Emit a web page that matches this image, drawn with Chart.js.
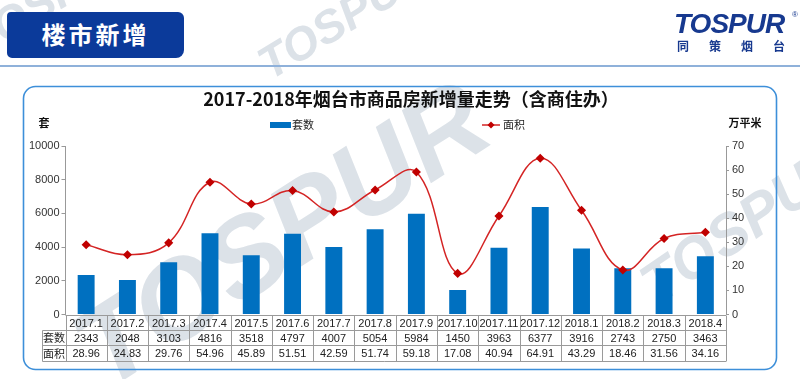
<!DOCTYPE html>
<html><head><meta charset="utf-8">
<script src="https://cdn.jsdelivr.net/npm/chart.js@4.4.1/dist/chart.umd.min.js"></script>
<style>
html,body{margin:0;padding:0;width:800px;height:379px;overflow:hidden;background:#fff;font-family:"Noto Sans CJK SC","Liberation Sans",sans-serif;}
#c{position:absolute;left:0;top:0;width:800px;height:379px;}
#hdr{position:absolute;left:7px;top:12px;width:177px;height:46px;background:#0b3a9a;border-radius:4px 6px 8px 5px;color:#fff;font-weight:bold;font-size:24px;line-height:44px;text-align:center;letter-spacing:3px;z-index:2;}
#hline{position:absolute;left:0;top:65px;width:800px;height:2px;background:#8fb1da;z-index:2;}
#logo{position:absolute;left:674px;top:9px;width:126px;z-index:2;color:#17398f;white-space:nowrap;}
#logo .t{font-family:"Liberation Sans",Arial,sans-serif;font-weight:bold;font-style:italic;font-size:28px;line-height:30px;letter-spacing:-1px;}
#logo .r{position:absolute;left:118px;top:1px;font-size:8px;font-family:"Liberation Sans",sans-serif;}
#logo .c{font-weight:bold;font-size:12px;line-height:14px;letter-spacing:20px;margin-left:3px;}
</style></head>
<body>
<canvas id="c" width="800" height="379"></canvas>
<div id="hdr">楼市新增</div>
<div id="hline"></div>
<div id="logo"><div class="t">TOSPUR</div><span class="r">®</span><div class="c">同策烟台</div></div>
<script>
const categories=["2017.1","2017.2","2017.3","2017.4","2017.5","2017.6","2017.7","2017.8","2017.9","2017.10","2017.11","2017.12","2018.1","2018.2","2018.3","2018.4"];
const units=[2343,2048,3103,4816,3518,4797,4007,5054,5984,1450,3963,6377,3916,2743,2750,3463];
const areas=[28.96,24.83,29.76,54.96,45.89,51.51,42.59,51.74,59.18,17.08,40.94,64.91,43.29,18.46,31.56,34.16];
const seriesNames=["套数","面积"];
const titleText="2017-2018年烟台市商品房新增量走势（含商住办）";
const leftAxisTitle="套";
const rightAxisTitle="万平米";

const BAR='#0070c0', LINE='#d42424', MARK='#c00000';
const CJK='"Noto Sans CJK SC", sans-serif';
const NUM='"Liberation Sans", "Noto Sans CJK SC", sans-serif';

function wm(ctx,x,y,size,ang){
  ctx.save();ctx.translate(x,y);ctx.rotate(ang);
  ctx.font='italic bold '+size+'px "Liberation Sans", Arial, sans-serif';
  ctx.fillStyle='#dce2e8';ctx.textAlign='center';ctx.textBaseline='middle';
  ctx.fillText('TOSPUR',0,0);ctx.restore();
}

const decor={
  id:'decor',
  beforeDraw(chart){
    const ctx=chart.ctx;
    ctx.save();
    ctx.fillStyle='#fff';ctx.fillRect(0,0,800,379);
    wm(ctx,285,240,112,-0.57);
    wm(ctx,748,225,58,-0.6);
    wm(ctx,345,20,46,-0.55);
    wm(ctx,55,-2,46,-0.55);
    // frame
    ctx.strokeStyle='#3d8fd9';ctx.lineWidth=1.6;
    ctx.beginPath();ctx.roundRect(23.5,86.5,753,283,12);ctx.stroke();
    // title
    ctx.fillStyle='#111';ctx.font='bold 18px '+CJK;ctx.textAlign='center';ctx.textBaseline='middle';
    ctx.fillText(titleText,411,99);
    // axis titles
    ctx.font='bold 11px '+CJK;
    ctx.fillText(leftAxisTitle,44,123);
    ctx.fillText(rightAxisTitle,745,123);
    // legend
    ctx.fillStyle=BAR;ctx.fillRect(270,122,21,6);
    ctx.fillStyle='#222';ctx.font='11px '+CJK;ctx.textAlign='left';
    ctx.fillText(seriesNames[0],292,125);
    ctx.strokeStyle=LINE;ctx.lineWidth=1.5;
    ctx.beginPath();ctx.moveTo(482,125);ctx.lineTo(500,125);ctx.stroke();
    ctx.fillStyle=MARK;ctx.beginPath();ctx.moveTo(491,121.5);ctx.lineTo(494.5,125);ctx.lineTo(491,128.5);ctx.lineTo(487.5,125);ctx.closePath();ctx.fill();
    ctx.fillStyle='#222';ctx.fillText(seriesNames[1],503,125);
    ctx.restore();
  },
  afterDraw(chart){
    const ctx=chart.ctx, xs=chart.scales.x, n=categories.length;
    const L=xs.left, R=xs.right, w=(R-L)/n;
    const y0=Math.round(chart.chartArea.bottom)+0.5, y1=330.5, y2=345.5, y3=361.5, HL=42.5;
    ctx.save();
    ctx.strokeStyle='#9a9a9a';ctx.lineWidth=1;
    ctx.beginPath();
    ctx.moveTo(L,y0);ctx.lineTo(R,y0);
    [y1,y2,y3].forEach(y=>{ctx.moveTo(HL,y);ctx.lineTo(R,y);});
    for(let i=0;i<=n;i++){const x=Math.round(L+i*w)+0.5;ctx.moveTo(x,y0);ctx.lineTo(x,y3);}
    ctx.moveTo(HL,y1);ctx.lineTo(HL,y3);
    ctx.stroke();
    ctx.fillStyle='#222';ctx.textAlign='center';ctx.textBaseline='middle';
    ctx.font='11px '+NUM;
    for(let i=0;i<n;i++){
      const cx=xs.getPixelForValue(i);
      ctx.fillText(categories[i],cx,(y0+y1)/2+0.5);
      ctx.fillText(String(units[i]),cx,(y1+y2)/2+0.5);
      ctx.fillText(areas[i].toFixed(2),cx,(y2+y3)/2+0.5);
    }
    ctx.font='11px '+CJK;
    ctx.fillText(seriesNames[0],(HL+L)/2,(y1+y2)/2);
    ctx.fillText(seriesNames[1],(HL+L)/2,(y2+y3)/2);
    ctx.restore();
  }
};

new Chart(document.getElementById('c'),{
  type:'bar',
  data:{labels:categories,datasets:[
    {type:'line',label:seriesNames[1],data:areas,yAxisID:'y1',order:0,borderColor:LINE,borderWidth:1.5,
     pointStyle:'rectRot',pointRadius:3.5,pointBackgroundColor:MARK,pointBorderColor:MARK,tension:0.4,clip:false},
    {label:seriesNames[0],data:units,yAxisID:'y',order:1,backgroundColor:BAR,barPercentage:0.41,categoryPercentage:1}
  ]},
  options:{
    responsive:false,animation:false,devicePixelRatio:1,
    layout:{padding:{left:0,right:0,top:146,bottom:64.5}},
    plugins:{legend:{display:false},title:{display:false},tooltip:{enabled:false}},
    scales:{
      x:{display:false,offset:true},
      y:{position:'left',min:0,max:10000,ticks:{stepSize:2000,padding:2,color:'#333',font:{size:11,family:NUM},callback:v=>String(v)},
         grid:{drawOnChartArea:false,tickLength:4,color:'#999'},border:{color:'#999'},
         afterFit(s){s.width=65.5;}},
      y1:{position:'right',min:0,max:70,ticks:{stepSize:10,padding:3,color:'#333',font:{size:11,family:NUM},callback:v=>String(v)},
         grid:{drawOnChartArea:false,tickLength:3,color:'#999'},border:{color:'#999'},
         afterFit(s){s.width=74;}}
    }
  },
  plugins:[decor]
});
</script>
</body></html>
